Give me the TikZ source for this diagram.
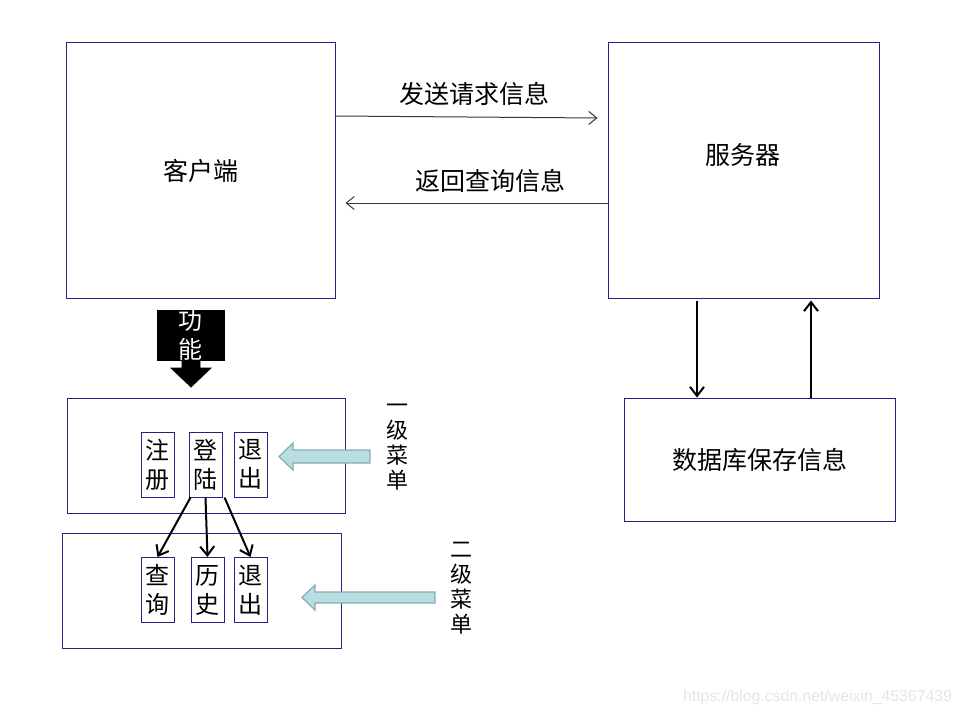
\documentclass[tikz,border=0pt]{standalone}
\usepackage{fontspec}
\setmainfont{Noto Sans CJK SC}
\newfontfamily\urlfont{Liberation Sans}
\usetikzlibrary{arrows.meta}

\definecolor{boxline}{RGB}{35,35,135}
\definecolor{menufill}{RGB}{184,222,225}
\definecolor{menuedge}{RGB}{135,172,176}
\definecolor{msgline}{RGB}{55,55,55}

\tikzset{
	bigbox/.style={draw=boxline, line width=0.5pt, inner sep=0pt, font=\fontsize{12.5}{15}\selectfont},
	itembox/.style={draw=boxline, line width=0.5pt, minimum width=16.5pt, minimum height=32.5pt, inner sep=0pt, align=center, font=\fontsize{12}{14.5}\selectfont},
	msg/.style={draw=msgline, line width=0.5pt, -{Straight Barb[length=4pt, width=6.5pt]}},
	dbarrow/.style={draw=black, line width=1pt, -{Straight Barb[length=4.5pt, width=7pt]}},
	subarrow/.style={draw=black, line width=1pt, -{Straight Barb[length=4.5pt, width=7pt]}},
	vtext/.style={align=center, inner sep=0pt, font=\fontsize{11}{12.6}\selectfont},
	menuarrow/.style={fill=menufill, draw=menuedge, line width=0.6pt, line join=miter}
}

\begin{document}
\begin{tikzpicture}[x=0.5pt, y=-0.5pt]
	\useasboundingbox (0, 0) rectangle (968, 717);

	\node [bigbox, minimum width=134.5pt, minimum height=127.5pt] (client) at (200.5, 170.5) {客户端};
	\node [bigbox, minimum width=135.5pt, minimum height=127.5pt] (server) at (743.5, 170.5) {};
	\node [font=\fontsize{12.5}{15}\selectfont] (servertext) at (743, 155) {服务器};
	\node [bigbox, minimum width=135.5pt, minimum height=61.5pt] (db) at (759.5, 459.5) {数据库保存信息};

	\draw [msg] ([yshift=27.25pt]client.east) -- ([xshift=-5pt, yshift=26.25pt]server.west)
		node [pos=0.53, yshift=11.5pt, font=\fontsize{12.5}{15}\selectfont] {发送请求信息};
	\draw [msg] ([yshift=-16.25pt]server.west) -- ([xshift=5pt, yshift=-16.25pt]client.east)
		node [pos=0.445, yshift=11pt, font=\fontsize{12.5}{15}\selectfont] {返回查询信息};

	\draw [dbarrow] ([xshift=-23.25pt, yshift=-1pt]server.south) -- ([xshift=-31.25pt]db.north);
	\draw [dbarrow] ([xshift=25.75pt]db.north) -- ([xshift=33.75pt, yshift=-1pt]server.south);

	\filldraw [black] (157, 310) rectangle (224, 360);
	\filldraw [black] (182, 359) -- (200, 359) -- (200, 368) -- (211, 368) -- (191, 387) -- (171, 368) -- (182, 368) -- cycle;
	\node [white, align=center, inner sep=0pt, font=\fontsize{12}{14.5}\selectfont] (func) at (190.5, 335.5) {功\\能};

	\node [bigbox, minimum width=139pt, minimum height=57.5pt] (menuone) at (206, 455.5) {};
	\node [bigbox, minimum width=139.5pt, minimum height=57.5pt] (menutwo) at (201.5, 590.5) {};

	\node [itembox] (reg) at (157.5, 464.5) {注\\册};
	\node [itembox] (login) at (205.5, 464.5) {登\\陆};
	\node [itembox] (quitone) at (250.5, 464.5) {退\\出};

	\node [itembox] (query) at (157.5, 590) {查\\询};
	\node [itembox] (history) at (207.5, 590) {历\\史};
	\node [itembox] (quittwo) at (250.5, 590) {退\\出};

	\draw [subarrow] ([xshift=1pt]login.south west) -- (query.north);
	\draw [subarrow] (login.south) -- (history.north);
	\draw [subarrow] ([xshift=1pt]login.south east) -- (quittwo.north);

	\filldraw [menuarrow] (370, 450) -- (293, 450) -- (293, 443) -- (279, 456.5) -- (293, 470) -- (293, 463) -- (370, 463) -- cycle;
	\filldraw [menuarrow] (435, 592) -- (315, 592) -- (315, 585) -- (302, 597.5) -- (315, 610) -- (315, 603) -- (435, 603) -- cycle;

	\node [vtext] (levelone) at (397, 447) {一\\级\\菜\\单};
	\node [vtext] (leveltwo) at (461, 588) {二\\级\\菜\\单};

	\node [text=black!10, font=\urlfont\fontsize{7.9}{9}\selectfont, anchor=east] (mark) at (959, 697) {https://blog.csdn.net/weixin\_45367439};
\end{tikzpicture}
\end{document}
